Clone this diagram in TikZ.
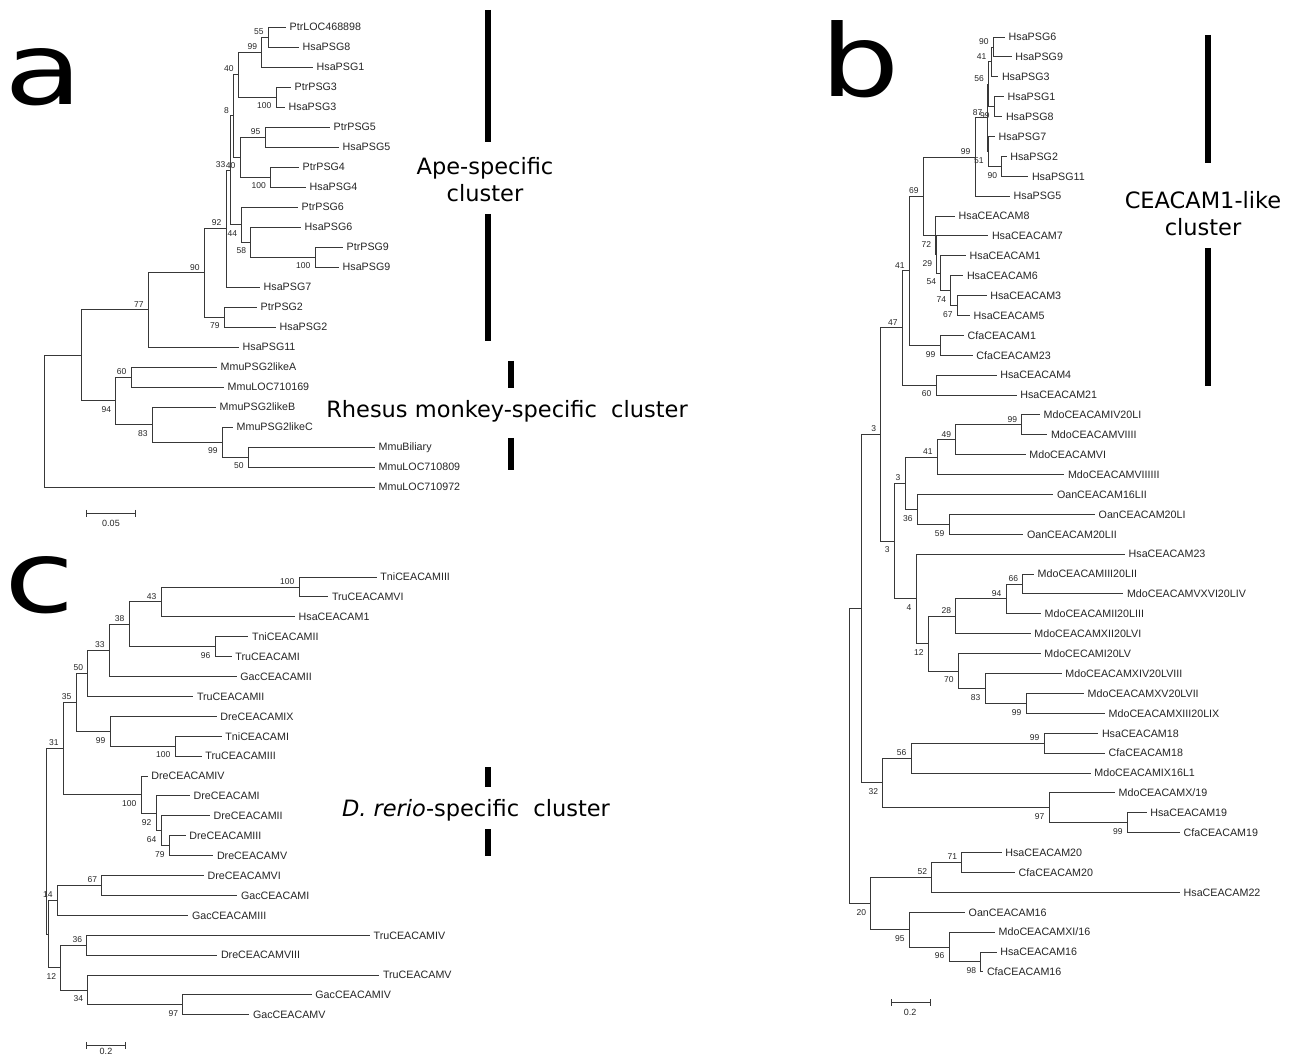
\documentclass[tikz,border=0pt]{standalone}
\usepackage{fontspec}
\setmainfont{Liberation Sans}
\newfontfamily\bigf{DejaVu Sans}
\usetikzlibrary{calc}
\tikzset{
  br/.style={draw=black!78, line width=0.85pt},
  leaf/.style={anchor=west, inner xsep=3.5pt, inner ysep=0pt, text height=7.7pt, text depth=0pt, font=\fontsize{10.7}{12}\selectfont, text=black!85},
  bsa/.style={anchor=south east, inner sep=0pt, xshift=-4.5pt, yshift=2.5pt, text height=6.1pt, text depth=0pt, font=\fontsize{8.5}{10}\selectfont, text=black!85},
  bsb/.style={anchor=north east, inner sep=0pt, xshift=-4.5pt, yshift=-5.5pt, text height=6.1pt, text depth=0pt, font=\fontsize{8.5}{10}\selectfont, text=black!85},
  pt/.style={inner sep=0pt, outer sep=0pt, minimum size=0pt},
  cbar/.style={line width=6pt, black},
  ctext/.style={font=\bigf\fontsize{22.5}{27}\selectfont, align=center, inner sep=0pt},
  plet/.style={font=\bigf\fontsize{100}{100}\selectfont, anchor=base west, inner sep=0pt},
  sc/.style={font=\fontsize{9}{10}\selectfont, text=black!85, inner sep=0pt}
}
\newcommand\lf[4]{\node[leaf] (#1) at (#2,#3) {#4};}
\newcommand\nd[6]{%
  \path ($(#3)!.5!(#4)$) coordinate (#1m);
  \coordinate (#1x) at (#2,0);
  \node[pt] (#1) at (#1x |- #1m) {};
  \draw[br] (#1.center) |- (#3.west);
  \draw[br] (#1.center) |- (#4.west);
  \ifx&#5&\else\node[bs#6] (#1b) at (#1) {#5};\fi
}
\begin{document}
\begin{tikzpicture}[x=1pt,y=-1pt]
\useasboundingbox[fill=white] (0,0) rectangle (1294,1056);

% ---------------- panel letters ----------------
\node[plet] (la) at (4,105) {\scalebox{1.28}[1]{a}};
\node[plet] (lb) at (820,97) {\scalebox{1.25}[1]{b}};
\node[plet] (lc) at (4,612) {\scalebox{1.28}[1]{c}};

% ---------------- panel a ----------------
\lf{a1}{286}{27}{PtrLOC468898}
\lf{a2}{299}{47}{HsaPSG8}
\lf{a3}{313}{67}{HsaPSG1}
\lf{a4}{291}{87}{PtrPSG3}
\lf{a5}{285}{107}{HsaPSG3}
\lf{a6}{330}{127}{PtrPSG5}
\lf{a7}{339}{147}{HsaPSG5}
\lf{a8}{299}{167}{PtrPSG4}
\lf{a9}{306}{187}{HsaPSG4}
\lf{a10}{298}{207}{PtrPSG6}
\lf{a11}{301}{227}{HsaPSG6}
\lf{a12}{343}{247}{PtrPSG9}
\lf{a13}{339}{267}{HsaPSG9}
\lf{a14}{260}{287}{HsaPSG7}
\lf{a15}{257}{307}{PtrPSG2}
\lf{a16}{276}{327}{HsaPSG2}
\lf{a17}{239}{347}{HsaPSG11}
\lf{a18}{217}{367}{MmuPSG2likeA}
\lf{a19}{224}{387}{MmuLOC710169}
\lf{a20}{216}{407}{MmuPSG2likeB}
\lf{a21}{233}{427}{MmuPSG2likeC}
\lf{a22}{375}{447}{MmuBiliary}
\lf{a23}{375}{467}{MmuLOC710809}
\lf{a24}{375}{487}{MmuLOC710972}

\nd{aA}{268.3}{a1}{a2}{55}{a}
\nd{aB}{261.7}{aA}{a3}{99}{a}
\nd{aC}{276}{a4}{a5}{100}{b}
\nd{aD}{238.3}{aB}{aC}{40}{a}
\nd{aE}{265}{a6}{a7}{95}{a}
\nd{aF}{270.5}{a8}{a9}{100}{b}
\nd{aG}{240}{aE}{aF}{40}{b}
\nd{aH}{233.5}{aD}{aG}{8}{a}
\nd{aI}{315}{a12}{a13}{100}{b}
\nd{aJ}{250.7}{a11}{aI}{58}{b}
\nd{aK}{241.7}{a10}{aJ}{44}{b}
\nd{aL}{230}{aH}{aK}{33}{a}
\nd{aM}{226}{aL}{a14}{92}{a}
\nd{aN}{224.3}{a15}{a16}{79}{b}
\nd{aO}{204.3}{aM}{aN}{90}{a}
\nd{aP}{148.3}{aO}{a17}{77}{a}
\nd{aQ}{131}{a18}{a19}{60}{a}
\nd{aS}{248.3}{a22}{a23}{50}{b}
\nd{aT}{222.3}{a21}{aS}{99}{b}
\nd{aU}{152.3}{a20}{aT}{83}{b}
\nd{aV}{115.7}{aQ}{aU}{94}{b}
\nd{aW}{81}{aP}{aV}{}{a}
\nd{aR}{44.3}{aW}{a24}{}{a}

\coordinate (sa1) at (86,513.3); \coordinate (sa2) at (135.3,513.3);
\draw[br] (sa1) -- (sa2);
\draw[br] ([yshift=3.5pt]sa1) -- ([yshift=-3.5pt]sa1);
\draw[br] ([yshift=3.5pt]sa2) -- ([yshift=-3.5pt]sa2);
\node[sc] (sal) at (111,523.5) {0.05};

\coordinate (ab1) at (488,10); \coordinate (ab2) at (488,142);
\coordinate (ab3) at (488,214); \coordinate (ab4) at (488,341);
\draw[cbar] (ab1) -- (ab2); \draw[cbar] (ab3) -- (ab4);
\node[ctext] (apet) at (485,180) {Ape-specific\\cluster};
\coordinate (rb1) at (511,361); \coordinate (rb2) at (511,388);
\coordinate (rb3) at (511,438); \coordinate (rb4) at (511,470);
\draw[cbar] (rb1) -- (rb2); \draw[cbar] (rb3) -- (rb4);
\node[ctext] (rht) at (507,411) {Rhesus monkey-specific~ cluster};

% ---------------- panel b ----------------
\def\by#1{37+19.89*#1}
\lf{b0}{1005}{\by{0}}{HsaPSG6}
\lf{b1}{1011.7}{\by{1}}{HsaPSG9}
\lf{b2}{998.3}{\by{2}}{HsaPSG3}
\lf{b3}{1004}{\by{3}}{HsaPSG1}
\lf{b4}{1002.3}{\by{4}}{HsaPSG8}
\lf{b5}{995}{\by{5}}{HsaPSG7}
\lf{b6}{1006.7}{\by{6}}{HsaPSG2}
\lf{b7}{1028.3}{\by{7}}{HsaPSG11}
\lf{b8}{1010}{\by{8}}{HsaPSG5}
\lf{b9}{955}{\by{9}}{HsaCEACAM8}
\lf{b10}{988.3}{\by{10}}{HsaCEACAM7}
\lf{b11}{966}{\by{11}}{HsaCEACAM1}
\lf{b12}{963.3}{\by{12}}{HsaCEACAM6}
\lf{b13}{986.7}{\by{13}}{HsaCEACAM3}
\lf{b14}{970}{\by{14}}{HsaCEACAM5}
\lf{b15}{964}{\by{15}}{CfaCEACAM1}
\lf{b16}{972.7}{\by{16}}{CfaCEACAM23}
\lf{b17}{996.7}{\by{17}}{HsaCEACAM4}
\lf{b18}{1016.7}{\by{18}}{HsaCEACAM21}
\lf{b19}{1040}{\by{19}}{MdoCEACAMIV20LI}
\lf{b20}{1047.3}{\by{20}}{MdoCEACAMVIIII}
\lf{b21}{1025.7}{\by{21}}{MdoCEACAMVI}
\lf{b22}{1064.3}{\by{22}}{MdoCEACAMVIIIIII}
\lf{b23}{1053.3}{\by{23}}{OanCEACAM16LII}
\lf{b24}{1095}{\by{24}}{OanCEACAM20LI}
\lf{b25}{1023.3}{\by{25}}{OanCEACAM20LII}
\lf{b26}{1125}{\by{26}}{HsaCEACAM23}
\lf{b27}{1034}{\by{27}}{MdoCEACAMIII20LII}
\lf{b28}{1123.3}{\by{28}}{MdoCEACAMVXVI20LIV}
\lf{b29}{1041}{\by{29}}{MdoCEACAMII20LIII}
\lf{b30}{1030.7}{\by{30}}{MdoCEACAMXII20LVI}
\lf{b31}{1040.7}{\by{31}}{MdoCECAMI20LV}
\lf{b32}{1061.7}{\by{32}}{MdoCEACAMXIV20LVIII}
\lf{b33}{1084}{\by{33}}{MdoCEACAMXV20LVII}
\lf{b34}{1105}{\by{34}}{MdoCEACAMXIII20LIX}
\lf{b35}{1098.3}{\by{35}}{HsaCEACAM18}
\lf{b36}{1105}{\by{36}}{CfaCEACAM18}
\lf{b37}{1090.7}{\by{37}}{MdoCEACAMIX16L1}
\lf{b38}{1115}{\by{38}}{MdoCEACAMX/19}
\lf{b39}{1146.7}{\by{39}}{HsaCEACAM19}
\lf{b40}{1180}{\by{40}}{CfaCEACAM19}
\lf{b41}{1001.7}{\by{41}}{HsaCEACAM20}
\lf{b42}{1015}{\by{42}}{CfaCEACAM20}
\lf{b43}{1180}{\by{43}}{HsaCEACAM22}
\lf{b44}{965}{\by{44}}{OanCEACAM16}
\lf{b45}{995}{\by{45}}{MdoCEACAMXI/16}
\lf{b46}{996.7}{\by{46}}{HsaCEACAM16}
\lf{b47}{983.3}{\by{47}}{CfaCEACAM16}

\nd{bA}{993.3}{b0}{b1}{90}{a}
\nd{bB}{991}{bA}{b2}{41}{a}
\nd{bC}{994.3}{b3}{b4}{99}{b}
\nd{bD}{988.5}{bB}{bC}{56}{a}
\nd{bE}{1001.7}{b6}{b7}{90}{b}
\nd{bF}{988.3}{b5}{bE}{51}{b}
\nd{bG}{987}{bD}{bF}{87}{a}
\nd{bH}{975}{bG}{b8}{99}{a}
\nd{bI}{957.3}{b13}{b14}{67}{b}
\nd{bJ}{950.7}{b12}{bI}{74}{b}
\nd{bK}{940.7}{b11}{bJ}{54}{b}
\nd{bL}{936.7}{b10}{bK}{29}{b}
\nd{bM}{935.7}{b9}{bL}{72}{b}
\nd{bN}{923.3}{bH}{bM}{69}{a}
\nd{bO}{940}{b15}{b16}{99}{b}
\nd{bP}{909.3}{bN}{bO}{41}{a}
\nd{bQ}{936}{b17}{b18}{60}{b}
\nd{bS}{902.3}{bP}{bQ}{47}{a}
\nd{bT}{1021.7}{b19}{b20}{99}{a}
\nd{bU}{955.7}{bT}{b21}{49}{a}
\nd{bV}{937.3}{bU}{b22}{41}{a}
\nd{bW}{949}{b24}{b25}{59}{b}
\nd{bX}{917.3}{b23}{bW}{36}{b}
\nd{bY}{905}{bV}{bX}{3}{a}
\nd{bZ}{1022.7}{b27}{b28}{66}{a}
\nd{bAA}{1006}{bZ}{b29}{94}{a}
\nd{bAB}{955.7}{bAA}{b30}{28}{a}
\nd{bAC}{1026}{b33}{b34}{99}{b}
\nd{bAD}{985}{b32}{bAC}{83}{b}
\nd{bAE}{958.3}{b31}{bAD}{70}{b}
\nd{bAF}{928.3}{bAB}{bAE}{12}{b}
\nd{bAG}{916}{b26}{bAF}{4}{b}
\nd{bAH}{894.3}{bY}{bAG}{3}{b}
\nd{bAI}{880.7}{bS}{bAH}{3}{a}
\nd{bAJ}{1044}{b35}{b36}{99}{a}
\nd{bAK}{911}{bAJ}{b37}{56}{a}
\nd{bAL}{1127.3}{b39}{b40}{99}{b}
\nd{bAM}{1049}{b38}{bAL}{97}{b}
\nd{bAN}{882.7}{bAK}{bAM}{32}{b}
\nd{bAO}{861.7}{bAI}{bAN}{}{a}
\nd{bAP}{961.7}{b41}{b42}{71}{a}
\nd{bAQ}{931.7}{bAP}{b43}{52}{a}
\nd{bAR}{980.7}{b46}{b47}{98}{b}
\nd{bAS}{949}{b45}{bAR}{96}{b}
\nd{bAT}{909.3}{b44}{bAS}{95}{b}
\nd{bAU}{870.7}{bAQ}{bAT}{20}{b}
\nd{bR}{849.3}{bAO}{bAU}{}{a}

\coordinate (sb1) at (891,1002.7); \coordinate (sb2) at (930,1002.7);
\draw[br] (sb1) -- (sb2);
\draw[br] ([yshift=3.5pt]sb1) -- ([yshift=-3.5pt]sb1);
\draw[br] ([yshift=3.5pt]sb2) -- ([yshift=-3.5pt]sb2);
\node[sc] (sbl) at (910,1012.3) {0.2};

\coordinate (bb1) at (1208,35); \coordinate (bb2) at (1208,163);
\coordinate (bb3) at (1208,248); \coordinate (bb4) at (1208,386);
\draw[cbar] (bb1) -- (bb2); \draw[cbar] (bb3) -- (bb4);
\node[ctext] (cet) at (1203,214) {CEACAM1-like\\cluster};

% ---------------- panel c ----------------
\def\cy#1{577+19.9*#1}
\lf{c0}{376.7}{\cy{0}}{TniCEACAMIII}
\lf{c1}{328.3}{\cy{1}}{TruCEACAMVI}
\lf{c2}{295}{\cy{2}}{HsaCEACAM1}
\lf{c3}{248.3}{\cy{3}}{TniCEACAMII}
\lf{c4}{231.7}{\cy{4}}{TruCEACAMI}
\lf{c5}{236.7}{\cy{5}}{GacCEACAMII}
\lf{c6}{193.3}{\cy{6}}{TruCEACAMII}
\lf{c7}{216.7}{\cy{7}}{DreCEACAMIX}
\lf{c8}{221.7}{\cy{8}}{TniCEACAMI}
\lf{c9}{201.7}{\cy{9}}{TruCEACAMIII}
\lf{c10}{147.7}{\cy{10}}{DreCEACAMIV}
\lf{c11}{190}{\cy{11}}{DreCEACAMI}
\lf{c12}{210}{\cy{12}}{DreCEACAMII}
\lf{c13}{185.7}{\cy{13}}{DreCEACAMIII}
\lf{c14}{213.3}{\cy{14}}{DreCEACAMV}
\lf{c15}{204}{\cy{15}}{DreCEACAMVI}
\lf{c16}{237.3}{\cy{16}}{GacCEACAMI}
\lf{c17}{188.3}{\cy{17}}{GacCEACAMIII}
\lf{c18}{370}{\cy{18}}{TruCEACAMIV}
\lf{c19}{217.3}{\cy{19}}{DreCEACAMVIII}
\lf{c20}{379.3}{\cy{20}}{TruCEACAMV}
\lf{c21}{311.7}{\cy{21}}{GacCEACAMIV}
\lf{c22}{249.3}{\cy{22}}{GacCEACAMV}

\nd{cA}{299}{c0}{c1}{100}{a}
\nd{cB}{161}{cA}{c2}{43}{a}
\nd{cC}{215}{c3}{c4}{96}{b}
\nd{cD}{129}{cB}{cC}{38}{a}
\nd{cE}{109.3}{cD}{c5}{33}{a}
\nd{cF}{87.7}{cE}{c6}{50}{a}
\nd{cG}{175}{c8}{c9}{100}{b}
\nd{cH}{110}{c7}{cG}{99}{b}
\nd{cI}{76}{cF}{cH}{35}{a}
\nd{cJ}{169.3}{c13}{c14}{79}{b}
\nd{cK}{161}{c12}{cJ}{64}{b}
\nd{cL}{156}{c11}{cK}{92}{b}
\nd{cM}{141}{c10}{cL}{100}{b}
\nd{cN}{63.3}{cI}{cM}{31}{a}
\nd{cO}{101.7}{c15}{c16}{67}{a}
\nd{cP}{57.3}{cO}{c17}{14}{a}
\nd{cQ}{86.7}{c18}{c19}{36}{a}
\nd{cS}{182.7}{c21}{c22}{97}{b}
\nd{cT}{87.7}{c20}{cS}{34}{b}
\nd{cU}{60.7}{cQ}{cT}{12}{b}
\nd{cV}{48.3}{cP}{cU}{}{a}
\nd{cR}{46.7}{cN}{cV}{}{a}

\coordinate (sc1) at (86,1045.3); \coordinate (sc2) at (125.3,1045.3);
\draw[br] (sc1) -- (sc2);
\draw[br] ([yshift=3.5pt]sc1) -- ([yshift=-3.5pt]sc1);
\draw[br] ([yshift=3.5pt]sc2) -- ([yshift=-3.5pt]sc2);
\node[sc] (scl) at (106,1051.5) {0.2};

\coordinate (db1) at (488,767); \coordinate (db2) at (488,787);
\coordinate (db3) at (488,829); \coordinate (db4) at (488,856);
\draw[cbar] (db1) -- (db2); \draw[cbar] (db3) -- (db4);
\node[ctext] (drt) at (476,810) {\textit{D. rerio}-specific~ cluster};
\end{tikzpicture}
\end{document}
